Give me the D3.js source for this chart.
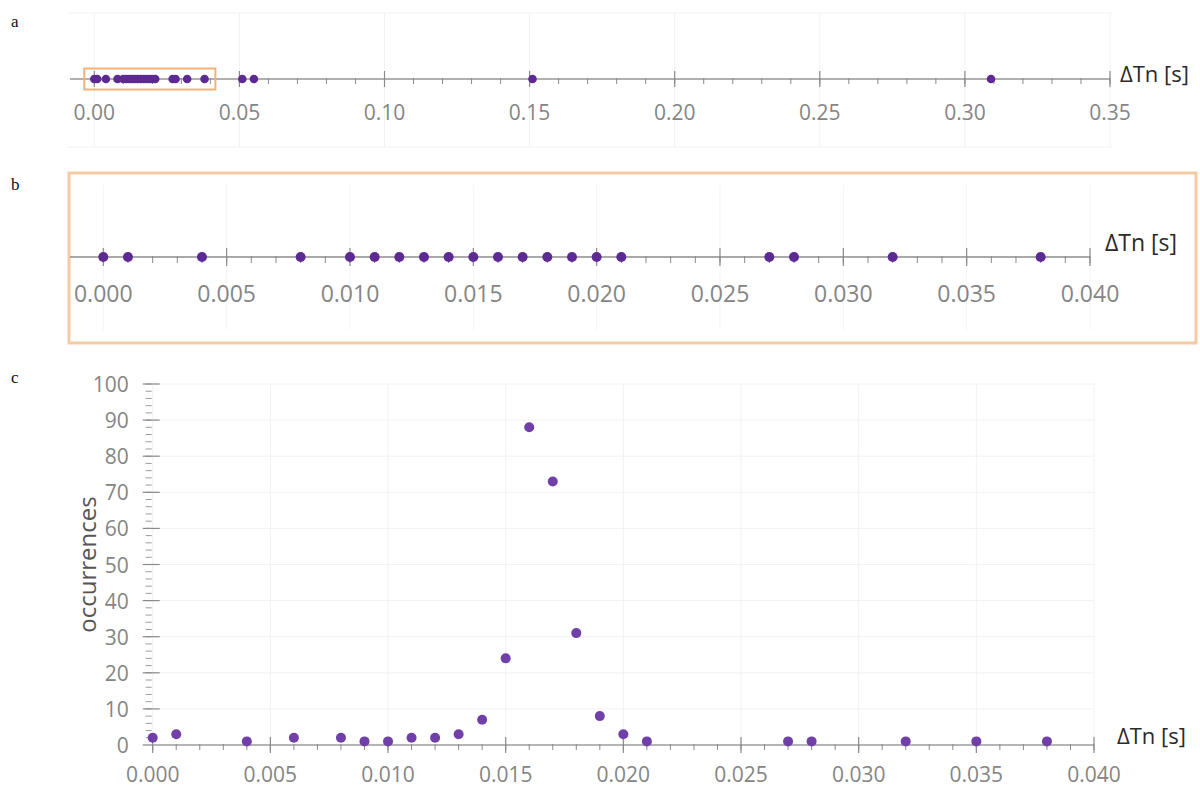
<!DOCTYPE html>
<html>
<head>
<meta charset="utf-8">
<script src="https://cdn.jsdelivr.net/npm/d3@7"></script>
<style>
html,body{margin:0;padding:0;background:#fff;}
svg{display:block;}
text{font-family:"Open Sans","Noto Sans",sans-serif;}
</style>
</head>
<body>
<svg id="chart" width="1200" height="789"></svg>
<script>
// ---------- data ----------
const panelLabels = ["a", "b", "c"];
const axisTitle = "ΔTn [s]";
const yTitle = "occurrences";

// panel a: all observed ΔTn values (s)
const aValues = [0.000, 0.001, 0.004, 0.008, 0.010, 0.011, 0.012, 0.013, 0.014, 0.015,
                 0.016, 0.017, 0.018, 0.019, 0.020, 0.021, 0.027, 0.028, 0.032, 0.038,
                 0.051, 0.055, 0.151, 0.309];
const aTicks = [0.00, 0.05, 0.10, 0.15, 0.20, 0.25, 0.30, 0.35];
const aDomain = [0, 0.35];
const zoomDomain = [0, 0.04];

// panel b: zoom on 0 – 0.04 s
const bValues = [0.000, 0.001, 0.004, 0.008, 0.010, 0.011, 0.012, 0.013, 0.014, 0.015,
                 0.016, 0.017, 0.018, 0.019, 0.020, 0.021, 0.027, 0.028, 0.032, 0.038];
const bTicks = [0.000, 0.005, 0.010, 0.015, 0.020, 0.025, 0.030, 0.035, 0.040];

// panel c: histogram of occurrences
const cDelta = [0.000, 0.001, 0.004, 0.006, 0.008, 0.009, 0.010, 0.011, 0.012, 0.013,
                0.014, 0.015, 0.016, 0.017, 0.018, 0.019, 0.020, 0.021, 0.027, 0.028,
                0.032, 0.035, 0.038];
const cCount = [2, 3, 1, 2, 2, 1, 1, 2, 2, 3,
                7, 24, 88, 73, 31, 8, 3, 1, 1, 1,
                1, 1, 1];
const cXTicks = [0.000, 0.005, 0.010, 0.015, 0.020, 0.025, 0.030, 0.035, 0.040];
const cYTicks = [0, 10, 20, 30, 40, 50, 60, 70, 80, 90, 100];

// ---------- drawing ----------
const svg = d3.select("#chart");
const purpleDark = "#5d2a93";
const purple = "#7040a8";
const tickColor = "#8a8a8a";
const labelColor = "#858585";
const gridColor = "#f2f2f2";

// panel letters
const letterY = [27, 190, 383];
svg.selectAll("text.letter").data(panelLabels).join("text")
  .attr("class", "letter")
  .attr("x", 11).attr("y", (d, i) => letterY[i])
  .style("font-family", "'Liberation Serif','DejaVu Serif',serif")
  .style("font-size", "17px").attr("fill", "#111")
  .text(d => d);

// helper for a number line
function numberLine(g, scale, y, opts) {
  const majors = opts.ticks;
  const minors = scale.ticks(opts.minorCount);
  g.append("line")
    .attr("x1", opts.lineStart).attr("x2", scale(scale.domain()[1]))
    .attr("y1", y).attr("y2", y)
    .attr("stroke", opts.lineColor).attr("stroke-width", opts.lineWidth);
  g.selectAll("line.minor").data(minors).join("line")
    .attr("class", "minor")
    .attr("x1", d => scale(d)).attr("x2", d => scale(d))
    .attr("y1", y - 1).attr("y2", y + opts.minorLen)
    .attr("stroke", tickColor).attr("stroke-width", 1);
  g.selectAll("line.major").data(majors).join("line")
    .attr("class", "major")
    .attr("x1", d => scale(d)).attr("x2", d => scale(d))
    .attr("y1", y - opts.majorLen).attr("y2", y + opts.majorLen)
    .attr("stroke", tickColor).attr("stroke-width", 1.2);
  g.selectAll("text.tl").data(majors).join("text")
    .attr("class", "tl")
    .attr("x", d => scale(d)).attr("y", y + opts.labelDy)
    .attr("text-anchor", "middle").attr("dominant-baseline", "central")
    .attr("fill", labelColor).style("font-size", opts.fontSize + "px")
    .text(d => d3.format(opts.fmt)(d));
  g.append("text")
    .attr("x", scale(scale.domain()[1]) + opts.titleDx).attr("y", y - opts.titleDy)
    .attr("dominant-baseline", "central")
    .attr("fill", "#2a2a2a").style("font-size", opts.titleSize + "px")
    .text(axisTitle);
}

// ===== Panel a =====
const gA = svg.append("g");
const xA = d3.scaleLinear().domain(aDomain).range([94.3, 1110]);
const aY = 79;
gA.selectAll("line.vg").data(aTicks).join("line")
  .attr("x1", d => xA(d)).attr("x2", d => xA(d)).attr("y1", 13).attr("y2", 147)
  .attr("stroke", gridColor).attr("stroke-width", 1);
gA.selectAll("line.hg").data([13, 147]).join("line")
  .attr("x1", 67).attr("x2", 1112).attr("y1", d => d).attr("y2", d => d)
  .attr("stroke", gridColor).attr("stroke-width", 1);
numberLine(gA, xA, aY, {
  ticks: aTicks, minorCount: 35, lineStart: 70, lineColor: "#b0b0b0", lineWidth: 2,
  minorLen: 5, majorLen: 8, labelDy: 33, fontSize: 21, fmt: ".2f",
  titleDx: 10, titleDy: 6, titleSize: 22
});
gA.append("rect")
  .attr("x", xA(zoomDomain[0]) - 10).attr("y", aY - 10.5)
  .attr("width", xA(zoomDomain[1]) - xA(zoomDomain[0]) + 15).attr("height", 21)
  .attr("fill", "none").attr("stroke", "#f0b27a").attr("stroke-width", 2);
gA.selectAll("circle").data(aValues).join("circle")
  .attr("cx", d => xA(d)).attr("cy", aY).attr("r", 4.3)
  .attr("fill", purpleDark);

// ===== Panel b =====
const gB = svg.append("g");
const xB = d3.scaleLinear().domain(zoomDomain).range([103.3, 1090]);
const bY = 257;
gB.append("rect")
  .attr("x", 69).attr("y", 173).attr("width", 1127).attr("height", 170)
  .attr("fill", "#fff").attr("stroke", "#f3cba3").attr("stroke-width", 3);
gB.selectAll("line.vg").data(bTicks).join("line")
  .attr("x1", d => xB(d)).attr("x2", d => xB(d)).attr("y1", 185).attr("y2", 330)
  .attr("stroke", "#f4f4f4").attr("stroke-width", 1);
numberLine(gB, xB, bY, {
  ticks: bTicks, minorCount: 40, lineStart: 70, lineColor: "#8c8c8c", lineWidth: 1.3,
  minorLen: 6, majorLen: 9, labelDy: 36, fontSize: 23, fmt: ".3f",
  titleDx: 15, titleDy: 15, titleSize: 23
});
gB.selectAll("circle").data(bValues).join("circle")
  .attr("cx", d => xB(d)).attr("cy", bY).attr("r", 5)
  .attr("fill", purpleDark);

// ===== Panel c =====
const gC = svg.append("g");
const xC = d3.scaleLinear().domain(zoomDomain).range([152.7, 1094]);
const yC = d3.scaleLinear().domain([0, 100]).range([745, 384]);
gC.selectAll("line.vg").data(cXTicks).join("line")
  .attr("x1", d => xC(d)).attr("x2", d => xC(d)).attr("y1", yC(100)).attr("y2", yC(0))
  .attr("stroke", gridColor).attr("stroke-width", 1);
gC.selectAll("line.hg").data(cYTicks.slice(1)).join("line")
  .attr("x1", xC(0)).attr("x2", xC(0.04)).attr("y1", d => yC(d)).attr("y2", d => yC(d))
  .attr("stroke", gridColor).attr("stroke-width", 1);
const yAxisX = xC(0) - 3;
gC.selectAll("line.ymin").data(yC.ticks(50)).join("line")
  .attr("x1", yAxisX - 4).attr("x2", yAxisX + 2)
  .attr("y1", d => yC(d)).attr("y2", d => yC(d))
  .attr("stroke", "#9a9a9a").attr("stroke-width", 1);
gC.selectAll("line.ymaj").data(cYTicks).join("line")
  .attr("x1", yAxisX - 7).attr("x2", yAxisX + 10)
  .attr("y1", d => yC(d)).attr("y2", d => yC(d))
  .attr("stroke", "#8a8a8a").attr("stroke-width", 1.2);
gC.selectAll("text.yl").data(cYTicks).join("text")
  .attr("class", "yl")
  .attr("x", yAxisX - 21).attr("y", d => yC(d))
  .attr("text-anchor", "end").attr("dominant-baseline", "central")
  .attr("fill", labelColor).style("font-size", "21px")
  .text(d => d3.format("d")(d));
gC.append("text")
  .attr("transform", `translate(${yAxisX - 63},${yC(50)}) rotate(-90)`)
  .attr("text-anchor", "middle").attr("dominant-baseline", "central")
  .attr("fill", "#555").style("font-size", "24px")
  .text(yTitle);
numberLine(gC, xC, yC(0), {
  ticks: cXTicks, minorCount: 40, lineStart: 143, lineColor: "#b5b5b5", lineWidth: 2,
  minorLen: 5, majorLen: 8, labelDy: 29, fontSize: 21, fmt: ".3f",
  titleDx: 23, titleDy: 10, titleSize: 22
});
gC.selectAll("circle").data(cDelta).join("circle")
  .attr("cx", d => xC(d)).attr("cy", (d, i) => yC(cCount[i])).attr("r", 5)
  .attr("fill", purple);
</script>
</body>
</html>
